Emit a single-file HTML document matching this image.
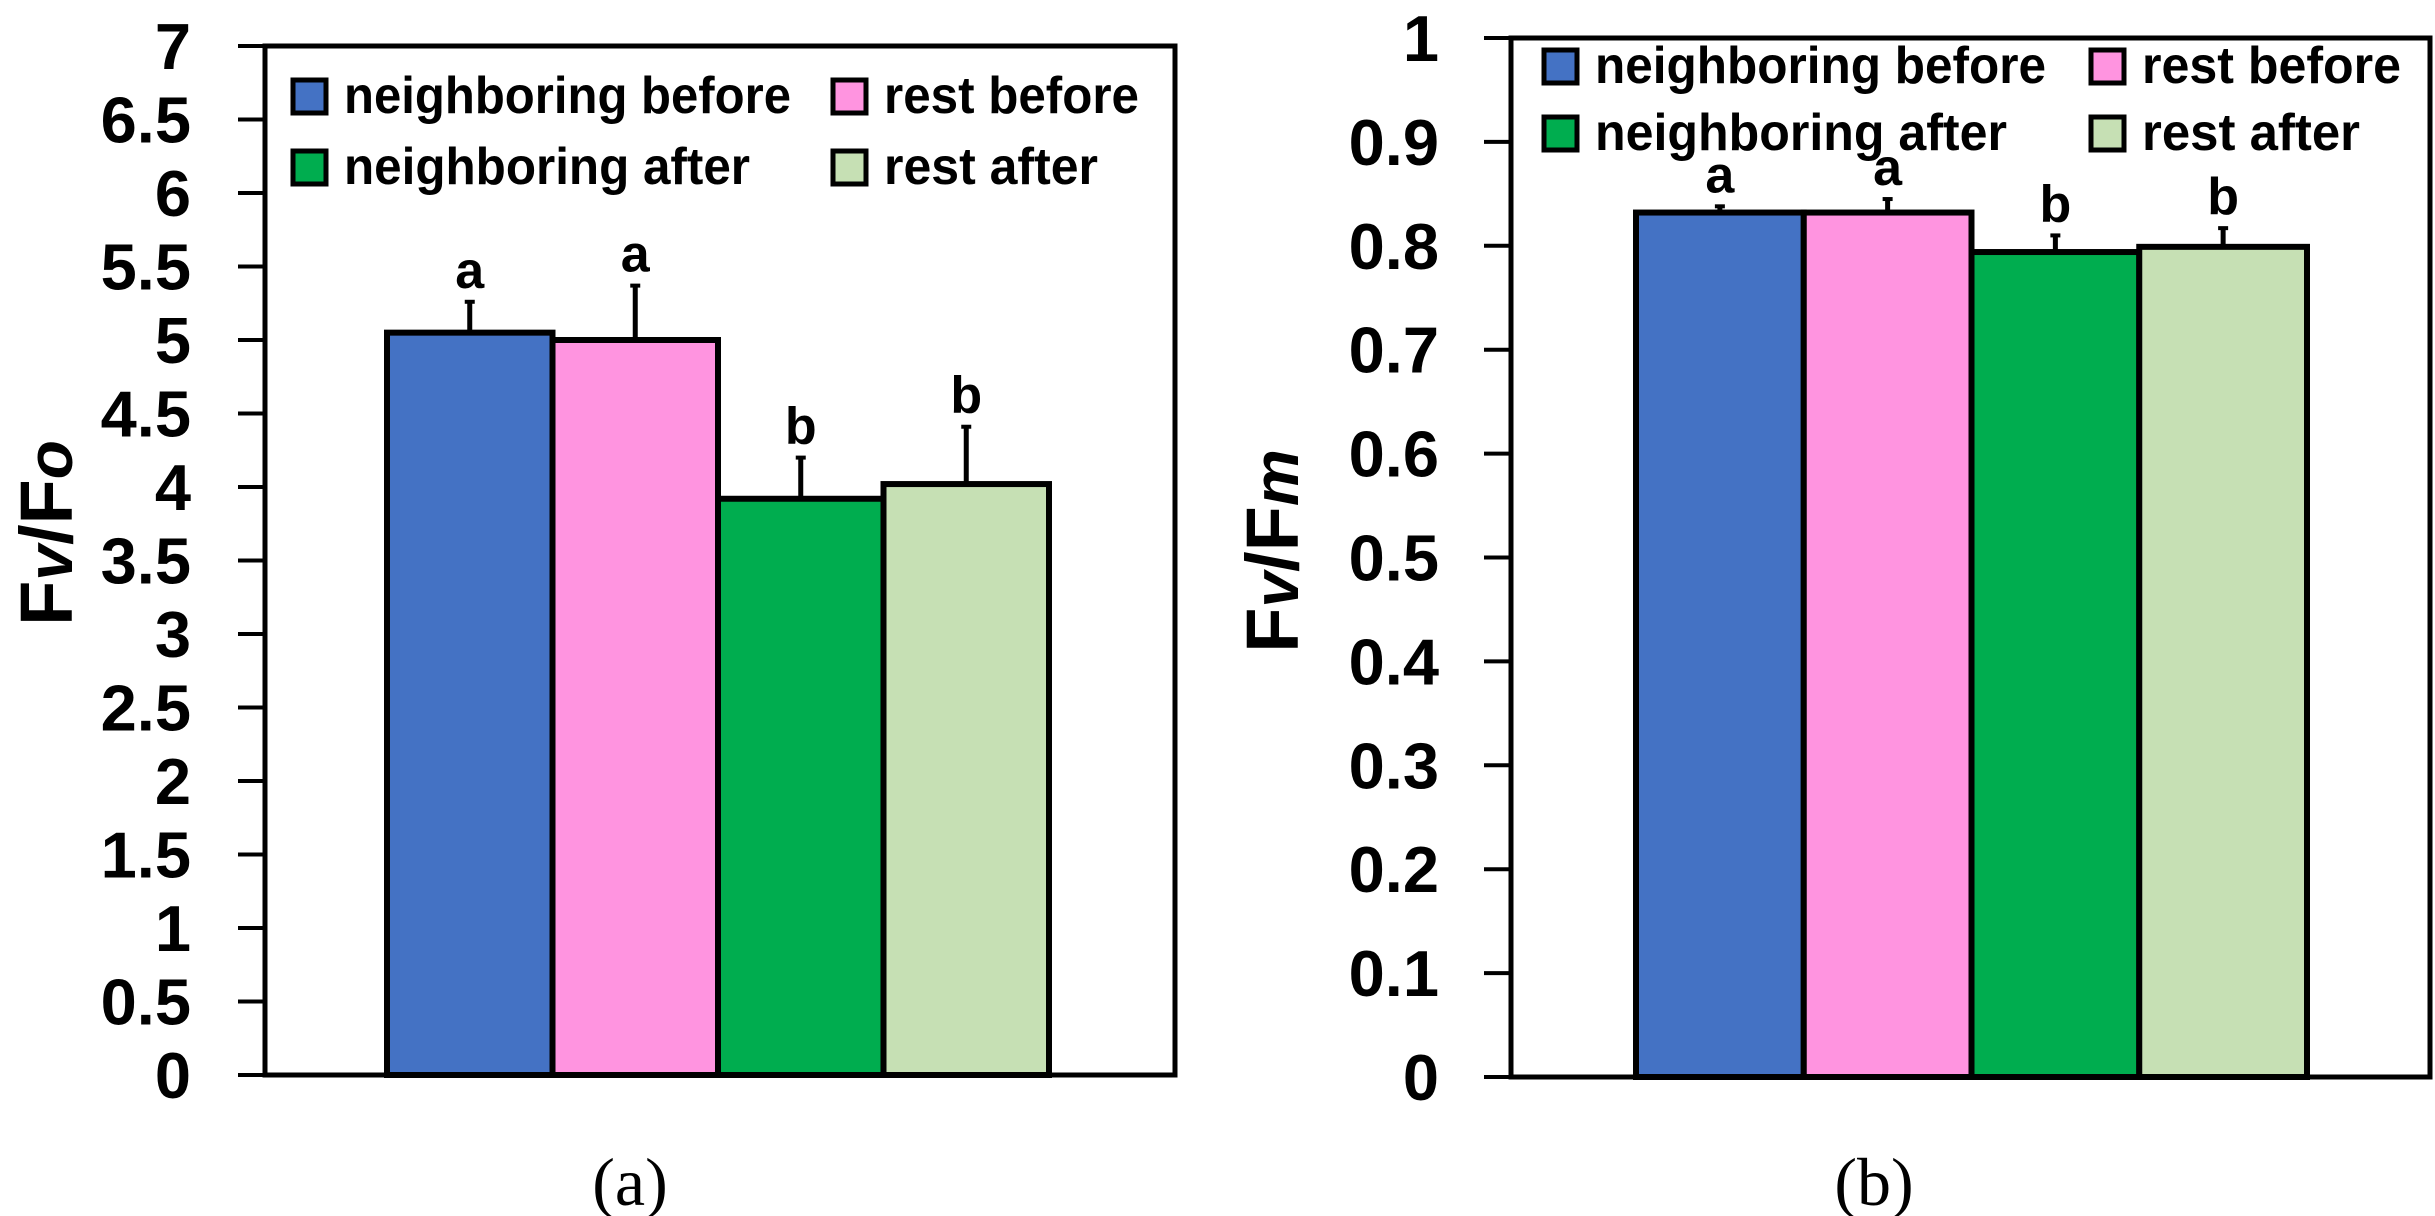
<!DOCTYPE html>
<html><head><meta charset="utf-8"><style>
html,body{margin:0;padding:0;background:#fff}
svg{display:block}
text{font-family:"Liberation Sans",sans-serif;font-weight:bold;fill:#000}
</style></head><body>
<svg id="fig" width="2435" height="1216" viewBox="0 0 2435 1216" xmlns="http://www.w3.org/2000/svg"></svg>
<script>
const seriesNames = ["neighboring before","rest before","neighboring after","rest after"];
const colors = ["#4472C4","#FF94E0","#00AD4F","#C6E0B4"];
const valuesA = [5.05, 5.0, 3.92, 4.02];
const errorsA = [0.21, 0.37, 0.28, 0.39];
const lettersA = ["a","a","b","b"];
const ticksA = ["0","0.5","1","1.5","2","2.5","3","3.5","4","4.5","5","5.5","6","6.5","7"];
const valuesB = [0.832, 0.832, 0.794, 0.799];
const errorsB = [0.006, 0.013, 0.016, 0.018];
const lettersB = ["a","a","b","b"];
const ticksB = ["0","0.1","0.2","0.3","0.4","0.5","0.6","0.7","0.8","0.9","1"];

const NS="http://www.w3.org/2000/svg";
const svg=document.getElementById('fig');
function mk(tag,attrs,parent,txt){const e=document.createElementNS(NS,tag);for(const k in attrs)e.setAttribute(k,attrs[k]);if(txt!==undefined)e.textContent=txt;(parent||svg).appendChild(e);return e;}

function panel(cfg){
  const g=mk('g',{});
  
  
  const y=v=>cfg.bottom-(v-cfg.min)/(cfg.max-cfg.min)*(cfg.bottom-cfg.top);
  const bw=(cfg.barsRight-cfg.barsLeft)/cfg.values.length;
  const x=i=>cfg.barsLeft+i*bw;
  cfg.ticks.forEach(t=>{
    const v=parseFloat(t),yy=y(v);
    const l=mk('line',{x1:cfg.left-27,x2:cfg.left,y1:yy,y2:yy,stroke:'#000','stroke-width':4},g);
    
    
    const tx=mk('text',{x:cfg.labelRight,y:yy+23,'text-anchor':'end','font-size':65},g,t);
    
    
  });
  cfg.values.forEach((v,i)=>{
    const r=mk('rect',{x:x(i),y:y(v),width:bw,height:y(cfg.min)-y(v),fill:colors[i],stroke:'#000','stroke-width':6},g);
    
    
    const cx=x(i)+bw/2, et=y(v+cfg.errors[i]);
    const e=mk('line',{x1:cx,x2:cx,y1:y(v),y2:et,stroke:'#000','stroke-width':5},g);
    
    
    const c=mk('line',{x1:cx-5,x2:cx+5,y1:et,y2:et,stroke:'#000','stroke-width':4},g);
    
    
    const lt=mk('text',{x:cx,y:et-14,'text-anchor':'middle','font-size':52},g,cfg.letters[i]);
    
    
  });
  const f=mk('rect',{x:cfg.left,y:cfg.top,width:cfg.right-cfg.left,height:cfg.bottom-cfg.top,fill:'none',stroke:'#000','stroke-width':5},g);
  
  
  seriesNames.forEach((n,i)=>{
    const col=i%2,row=Math.floor(i/2);
    const bx=cfg.legX[col], by=cfg.legY+row*cfg.legDy;
    const lg=mk('g',{},g);
    
    
    mk('rect',{x:bx,y:by,width:33,height:33,fill:colors[i],stroke:'#000','stroke-width':5},lg);
    mk('text',{x:bx+51,y:by+33,'font-size':52,textLength:cfg.legW[i],lengthAdjust:'spacingAndGlyphs'},lg,n);
  });
  const yl=mk('text',{transform:`translate(${cfg.ylx},${cfg.yly}) rotate(-90)`,'text-anchor':'middle','font-size':74},g);
  
  
  mk('tspan',{},yl,'F');
  mk('tspan',{'font-style':'italic','font-size':64},yl,'v');
  mk('tspan',{},yl,'/F');
  mk('tspan',{'font-style':'italic','font-size':64},yl,cfg.ysub);
  const cap=mk('text',{x:cfg.capX,y:1205,'text-anchor':'middle','font-size':68,style:'font-family:"Liberation Serif",serif;font-weight:normal'},g,cfg.caption);
  
  
}

panel({id:'panel-a',left:265,right:1175,top:46,bottom:1075,min:0,max:7,barsLeft:387,barsRight:1049,
  values:valuesA,errors:errorsA,letters:lettersA,ticks:ticksA,labelRight:191,
  legX:[293,833],legY:80,legDy:71,legW:[447,255,406,214],ylx:72,yly:533,ysub:'o',capX:630,caption:'(a)'});
panel({id:'panel-b',left:1511,right:2430,top:38,bottom:1077,min:0,max:1,barsLeft:1636,barsRight:2307,
  values:valuesB,errors:errorsB,letters:lettersB,ticks:ticksB,labelRight:1439,
  legX:[1544,2091],legY:50,legDy:67,legW:[451,259,412,218],ylx:1298,yly:551,ysub:'m',capX:1874,caption:'(b)'});
</script>
</body></html>
